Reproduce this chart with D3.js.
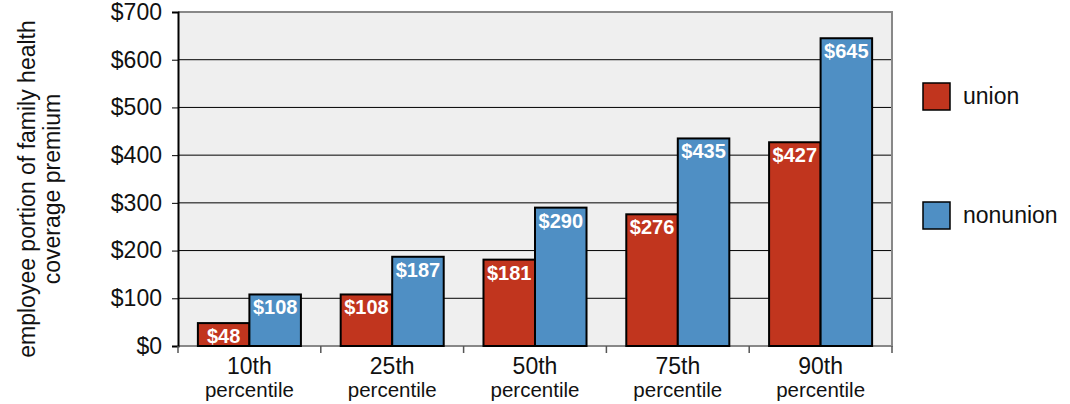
<!DOCTYPE html>
<meta charset="utf-8">
<style>
  body { margin: 0; background: #fff; }
  text { font-family: "Liberation Sans", Arial, sans-serif; }
</style>
<body>
<script src="https://d3js.org/d3.v7.min.js"></script>
<script>
// chart data
var categories = ["10th", "25th", "50th", "75th", "90th"];
var union = [48, 108, 181, 276, 427];
var nonunion = [108, 187, 290, 435, 645];
var series = ["union", "nonunion"];
var yTicks = [0, 100, 200, 300, 400, 500, 600, 700];
var colors = {union: "#c1351e", nonunion: "#4f8fc4"};

var W = 1070, H = 404;
var mLeft = 178, mRight = 892, mTop = 12, mBottom = 346;

var svg = d3.select("body").append("svg")
    .attr("width", W).attr("height", H);

var x = d3.scaleBand().domain(categories).range([mLeft, mRight]).padding(0);
var xs = d3.scaleBand().domain(series).range([0, x.bandwidth()]).paddingInner(0).paddingOuter(0.386);
var y = d3.scaleLinear().domain([0, 700]).range([mBottom, mTop]);

// plot background
svg.append("rect")
    .attr("x", mLeft).attr("y", mTop)
    .attr("width", mRight - mLeft).attr("height", mBottom - mTop)
    .attr("fill", "#efefef");

// gridlines
svg.append("g").selectAll("line")
    .data(yTicks.slice(1, -1))
    .enter().append("line")
    .attr("x1", mLeft).attr("x2", mRight)
    .attr("y1", function(d) { return y(d); })
    .attr("y2", function(d) { return y(d); })
    .attr("stroke", "#000").attr("stroke-width", 1);

// gray frame top/right/bottom
svg.append("path")
    .attr("d", "M" + mLeft + "," + mTop + "H" + mRight + "V" + mBottom + "H" + mLeft)
    .attr("fill", "none").attr("stroke", "#888").attr("stroke-width", 2);

// y axis
var yAxis = svg.append("g")
    .attr("transform", "translate(" + mLeft + ",0)")
    .call(d3.axisLeft(y).tickValues(yTicks).tickSize(6).tickPadding(10)
        .tickFormat(function(d) { return "$" + d; }));
yAxis.select(".domain").attr("stroke", "#000").attr("stroke-width", 2);
yAxis.selectAll(".tick line").attr("stroke", "#000");
yAxis.selectAll("text").attr("font-size", 23).attr("fill", "#111")
    .attr("font-family", "Liberation Sans, Arial, sans-serif");

// category separator ticks
svg.append("g").selectAll("line")
    .data(d3.range(categories.length + 1))
    .enter().append("line")
    .attr("x1", function(i) { return mLeft + i * x.step(); })
    .attr("x2", function(i) { return mLeft + i * x.step(); })
    .attr("y1", mBottom).attr("y2", mBottom + 7)
    .attr("stroke", "#555").attr("stroke-width", 1.5);

// bars
var groups = svg.append("g").selectAll("g")
    .data(categories)
    .enter().append("g")
    .attr("transform", function(d) { return "translate(" + x(d) + ",0)"; });

groups.each(function(c, i) {
  var g = d3.select(this);
  var vals = [{s: "union", v: union[i]}, {s: "nonunion", v: nonunion[i]}];
  g.selectAll("rect").data(vals).enter().append("rect")
      .attr("x", function(d) { return xs(d.s); })
      .attr("y", function(d) { return y(d.v); })
      .attr("width", xs.bandwidth())
      .attr("height", function(d) { return mBottom - y(d.v); })
      .attr("fill", function(d) { return colors[d.s]; })
      .attr("stroke", "#000").attr("stroke-width", 2);
  g.selectAll("text.val").data(vals).enter().append("text")
      .attr("class", "val")
      .attr("x", function(d) { return xs(d.s) + xs.bandwidth() / 2; })
      .attr("y", function(d) { return y(d.v) + 20; })
      .attr("text-anchor", "middle")
      .attr("font-size", 20).attr("font-weight", "bold")
      .attr("fill", "#fff")
      .text(function(d) { return "$" + d.v; });
});

// category labels
var cl = svg.append("g").selectAll("text")
    .data(categories)
    .enter().append("text")
    .attr("x", function(d) { return x(d) + x.bandwidth() / 2; })
    .attr("text-anchor", "middle")
    .attr("fill", "#111");
cl.append("tspan").attr("y", 374).attr("font-size", 23).text(function(d) { return d; });
cl.append("tspan").attr("x", function(d) { return x(d) + x.bandwidth() / 2; })
    .attr("y", 397).attr("font-size", 20.5).text("percentile");

// y axis title
var yt = svg.append("text")
    .attr("transform", "translate(35,189) rotate(-90)")
    .attr("text-anchor", "middle").attr("font-size", 23).attr("fill", "#111");
yt.append("tspan").attr("x", 0).attr("y", 0).text("employee portion of family health");
yt.append("tspan").attr("x", 0).attr("y", 25).text("coverage premium");

// legend
var legend = svg.append("g").selectAll("g")
    .data(series)
    .enter().append("g")
    .attr("transform", function(d, i) { return "translate(923," + (83 + i * 119) + ")"; });
legend.append("rect")
    .attr("width", 27).attr("height", 27)
    .attr("fill", function(d) { return colors[d]; })
    .attr("stroke", "#000").attr("stroke-width", 1.5);
legend.append("text")
    .attr("x", 40).attr("y", 21)
    .attr("font-size", 23).attr("fill", "#111")
    .text(function(d) { return d; });
</script>
</body>
